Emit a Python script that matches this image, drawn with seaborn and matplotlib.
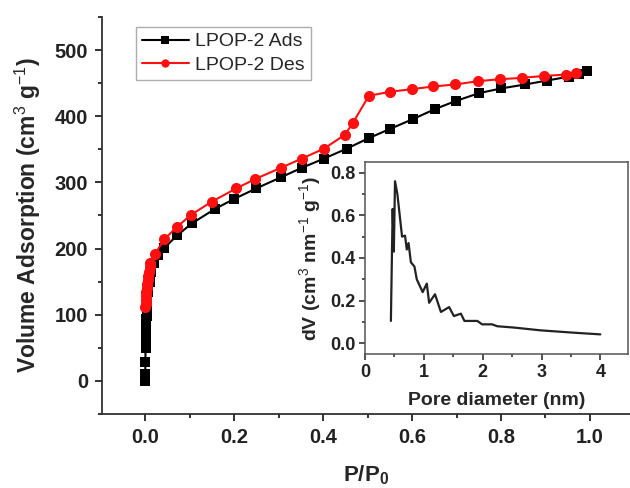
import numpy as np
import pandas as pd
import matplotlib
matplotlib.use("Agg")
import matplotlib.pyplot as plt
from matplotlib.ticker import MultipleLocator
import seaborn as sns

# ---- data ----
ads_p = [0.0001, 0.0002, 0.0003, 0.0006, 0.0008, 0.001, 0.0012, 0.0015, 0.0018,
         0.002, 0.0025, 0.003, 0.0035, 0.004, 0.005, 0.007, 0.010, 0.014, 0.020,
         0.028, 0.043, 0.072, 0.105, 0.157, 0.200, 0.250, 0.306, 0.352, 0.402,
         0.453, 0.503, 0.551, 0.603, 0.652, 0.698, 0.751, 0.800, 0.854, 0.904,
         0.953, 0.975, 0.993]
ads_v = [0, 5, 10, 28, 50, 57, 63, 69, 75, 81, 87, 93, 98, 103, 118, 135, 150,
         165, 178, 190, 201, 220, 238, 260, 275, 291, 308, 322, 336, 351, 367,
         381, 396, 411, 423, 435, 442, 448, 454, 460, 464, 469]
des_p = [0.969, 0.946, 0.897, 0.847, 0.798, 0.748, 0.697, 0.648, 0.600, 0.551,
         0.503, 0.467, 0.449, 0.402, 0.352, 0.305, 0.247, 0.205, 0.150, 0.103,
         0.072, 0.043, 0.022, 0.012, 0.010, 0.008, 0.007, 0.006, 0.005, 0.004,
         0.003, 0.002, 0.0015, 0.001, 0.0005]
des_v = [465, 463, 461, 458, 456, 453, 448, 445, 441, 437, 431, 390, 372, 351,
         336, 322, 305, 291, 271, 251, 233, 214, 192, 178, 172, 165, 158, 152,
         146, 140, 134, 128, 122, 117, 112]

pore_d = [0.44, 0.47, 0.49, 0.51, 0.55, 0.63, 0.68, 0.71, 0.74, 0.78, 0.84,
          0.88, 0.98, 1.05, 1.09, 1.19, 1.29, 1.43, 1.51, 1.63, 1.69, 1.91,
          1.99, 2.16, 2.25, 2.53, 2.98, 3.54, 4.00]
pore_dv = [0.105, 0.63, 0.43, 0.76, 0.70, 0.50, 0.505, 0.44, 0.47, 0.38, 0.36,
           0.30, 0.24, 0.28, 0.19, 0.23, 0.147, 0.17, 0.128, 0.139, 0.105,
           0.105, 0.089, 0.089, 0.080, 0.074, 0.061, 0.050, 0.042]

series_names = ["LPOP-2 Ads", "LPOP-2 Des"]

# ---- style ----
sns.set_style("ticks")
plt.rcParams["font.family"] = ["Liberation Sans", "DejaVu Sans"]
plt.rcParams["mathtext.fontset"] = "custom"
plt.rcParams["mathtext.rm"] = "Liberation Sans"
plt.rcParams["mathtext.bf"] = "Liberation Sans:bold"
plt.rcParams["mathtext.it"] = "Liberation Sans:italic"

fig = plt.figure(figsize=(6.3, 4.88), dpi=100)
ax = fig.add_axes([102/630, 1 - 414/488, 528/630, (414-17)/488])

df_ads = pd.DataFrame({"p": ads_p, "v": ads_v})
df_des = pd.DataFrame({"p": des_p, "v": des_v})
sns.lineplot(data=df_ads, x="p", y="v", ax=ax, color="black", marker="s",
             markersize=6.5, markeredgewidth=0, linewidth=1.5, sort=False,
             estimator=None, label=series_names[0])
sns.lineplot(data=df_des, x="p", y="v", ax=ax, color="#ff1010", marker="o",
             markersize=8, markeredgewidth=0, linewidth=1.5, sort=False,
             estimator=None, label=series_names[1])

ax.set_xlim(-0.097, 1.09)
ax.set_ylim(-50, 550)
ax.xaxis.set_minor_locator(MultipleLocator(0.1))
ax.yaxis.set_minor_locator(MultipleLocator(50))
ax.set_xticks([0.0, 0.2, 0.4, 0.6, 0.8, 1.0])
ax.set_xticklabels(["0.0", "0.2", "0.4", "0.6", "0.8", "1.0"])
ax.set_yticks([0, 100, 200, 300, 400, 500])
ax.tick_params(axis="both", which="major", direction="out", length=5, width=1.3,
               labelsize=14.5, colors="#222222", pad=5)
ax.tick_params(axis="both", which="minor", direction="out", length=3, width=1.3,
               colors="#222222")
for lab in ax.get_xticklabels() + ax.get_yticklabels():
    lab.set_fontweight("bold")
for s in ["top", "right"]:
    ax.spines[s].set_visible(False)
for s in ["left", "bottom"]:
    ax.spines[s].set_linewidth(1.3)
    ax.spines[s].set_color("#333333")

ax.set_xlabel(r"$\mathbf{P/P_0}$", fontsize=16, labelpad=12)
ax.set_ylabel(r"Volume Adsorption (cm$^{3}$ g$^{-1}$)", fontsize=16.5,
              fontweight="bold", labelpad=8)

leg = ax.legend(loc="upper left", bbox_to_anchor=(34/528, 1 - 10/397),
                fontsize=14, frameon=True, fancybox=False, handlelength=2.4,
                handletextpad=0.35, borderpad=0.3, labelspacing=0.3,
                edgecolor="#999999", borderaxespad=0)
leg.get_frame().set_linewidth(1.0)
for h in leg.legend_handles:
    h.set_markersize(6)

# ---- inset ----
ins = fig.add_axes([365/630, 1 - 354/488, (628-365)/630, (354-162)/488])
df_psd = pd.DataFrame({"d": pore_d, "dv": pore_dv})
sns.lineplot(data=df_psd, x="d", y="dv", ax=ins, color="#222222", linewidth=1.6,
             sort=False, estimator=None)
ins.set_xlim(0, 4.47)
ins.set_ylim(-0.05, 0.85)
ins.xaxis.set_major_locator(MultipleLocator(1))
ins.xaxis.set_minor_locator(MultipleLocator(0.5))
ins.set_yticks([0.0, 0.2, 0.4, 0.6, 0.8])
ins.set_yticklabels(["0.0", "0.2", "0.4", "0.6", "0.8"])
ins.yaxis.set_minor_locator(MultipleLocator(0.1))
ins.tick_params(axis="both", which="major", direction="out", length=4, width=1.1,
                labelsize=13, colors="#222222", pad=3)
ins.tick_params(axis="both", which="minor", direction="out", length=2.5, width=1.1,
                colors="#222222")
for lab in ins.get_xticklabels() + ins.get_yticklabels():
    lab.set_fontweight("bold")
for s in ins.spines.values():
    s.set_linewidth(1.1)
    s.set_color("#555555")
ins.set_xlabel("Pore diameter (nm)", fontsize=14, fontweight="bold", labelpad=8)
ins.set_ylabel(r"dV (cm$^{3}$ nm$^{-1}$ g$^{-1}$)", fontsize=14,
               fontweight="bold", labelpad=5)

fig.savefig("out.png", dpi=100)
